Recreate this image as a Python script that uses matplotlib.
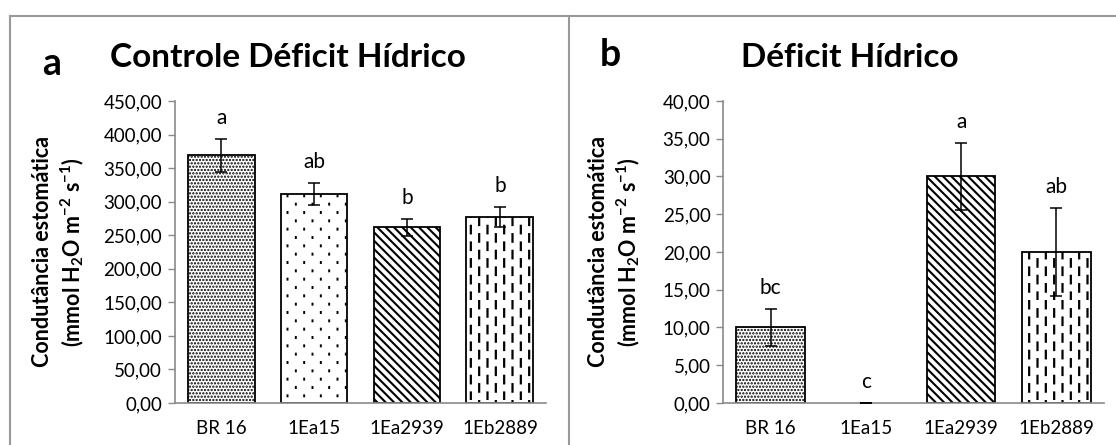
import warnings
import numpy as np
import matplotlib
matplotlib.use('Agg')
import matplotlib.pyplot as plt
from matplotlib.ticker import FuncFormatter
from matplotlib.lines import Line2D
from matplotlib.path import Path
import matplotlib.hatch as mhatch

# data
genotypes = ['BR 16', '1Ea15', '1Ea2939', '1Eb2889']

control_mean = [369.0, 311.5, 261.5, 276.5]
control_err = [24.5, 16.0, 12.5, 15.0]
control_letters = ['a', 'ab', 'b', 'b']

deficit_mean = [10.0, 0.0, 30.0, 20.0]
deficit_err = [2.4, 0.0, 4.4, 5.8]
deficit_letters = ['bc', 'c', 'a', 'ab']

hatches = ['.....', ':', '\\\\\\\\', '!!']
hatch_lw = [1.1, 1.4, 1.5, 1.6]


# dashed vertical lines (Excel style pattern), not available in matplotlib
class DashedVertical(mhatch.HatchPatternBase):
    def __init__(self, hatch, density):
        self.num_cols = hatch.count('!') * density
        self.num_rows = self.num_cols // 2
        self.num_vertices = self.num_cols * self.num_rows * 2

    def set_vertices_and_codes(self, vertices, codes):
        sx = 1.0 / self.num_cols
        sy = 1.0 / self.num_rows
        k = 0
        for i in range(self.num_cols):
            x = i * sx + sx / 2
            off = (i % 2) * sy / 2
            for j in range(self.num_rows):
                y0 = j * sy + off
                vertices[k] = (x, y0)
                vertices[k + 1] = (x, y0 + sy * 0.45)
                codes[k] = Path.MOVETO
                codes[k + 1] = Path.LINETO
                k += 2


# sparse staggered small dots
class SparseDots(mhatch.HatchPatternBase):
    def __init__(self, hatch, density):
        self.num_cols = hatch.count(':') * density
        self.num_rows = self.num_cols * 2
        self.num_vertices = self.num_cols * self.num_rows * 2

    def set_vertices_and_codes(self, vertices, codes):
        sx = 1.0 / self.num_cols
        sy = 1.0 / self.num_rows
        k = 0
        for j in range(self.num_rows):
            off = (j % 2) * sx / 2
            for i in range(self.num_cols):
                x = i * sx + off + sx / 4
                y = j * sy + sy / 2
                vertices[k] = (x, y - 0.005)
                vertices[k + 1] = (x, y + 0.005)
                codes[k] = Path.MOVETO
                codes[k + 1] = Path.LINETO
                k += 2


mhatch._hatch_types.append(DashedVertical)
mhatch._hatch_types.append(SparseDots)
warnings.filterwarnings('ignore')

plt.rcParams['font.family'] = ['Lato', 'DejaVu Sans']
plt.rcParams['mathtext.fontset'] = 'custom'
plt.rcParams['mathtext.rm'] = 'Lato'
plt.rcParams['mathtext.bf'] = 'Lato:bold'
plt.rcParams['hatch.color'] = 'black'

fig = plt.figure(figsize=(11.16, 4.45), dpi=100)

grey = '#8a8a8a'
ylab = 'Condutância estomática\n' + r'(mmol H$_\mathbf{2}$O m$^\mathbf{-2}$ s$^\mathbf{-1}$)'


def panel(rect, means, errs, letters, ymax, ystep, title, tag, title_x, tag_xy, ylab_x):
    ax = fig.add_axes(rect)
    x = np.arange(len(genotypes))
    for xi, m, h, lw in zip(x, means, hatches, hatch_lw):
        with plt.rc_context({'hatch.linewidth': lw}):
            b = ax.bar(xi, m, width=0.72, color='white', edgecolor='black',
                       linewidth=1.3 if m > 0 else 0, hatch=h, zorder=2)[0]
            if hasattr(b, 'set_hatch_linewidth'):
                b.set_hatch_linewidth(lw)
    ax.errorbar(x, means, yerr=errs, fmt='none', ecolor='black', elinewidth=1.1,
                capsize=4.5, capthick=1.1, zorder=3)
    for xi, m, e, t in zip(x, means, errs, letters):
        ax.annotate(t, (xi, m + e), xytext=(0, 11), textcoords='offset points',
                    ha='center', va='baseline', fontsize=15)
    ax.set_xlim(-0.5, len(genotypes) - 0.5)
    ax.set_ylim(0, ymax)
    ax.set_yticks(np.arange(0, ymax + ystep / 2, ystep))
    ax.yaxis.set_major_formatter(FuncFormatter(lambda v, p: f'{v:.2f}'.replace('.', ',')))
    ax.set_xticks(x)
    ax.set_xticklabels(genotypes)
    ax.tick_params(axis='x', length=0, pad=12, labelsize=13.5)
    ax.tick_params(axis='y', length=5, width=1, color=grey, pad=4, labelsize=13.5)
    for s in ['top', 'right']:
        ax.spines[s].set_visible(False)
    for s in ['left', 'bottom']:
        ax.spines[s].set_color(grey)
        ax.spines[s].set_linewidth(1.2)
    fig.text(title_x, 1 - 67 / 445, title, ha='center', va='baseline',
             fontsize=24, fontweight='bold')
    fig.text(tag_xy[0], tag_xy[1], tag, ha='left', va='baseline',
             fontsize=27, fontweight='bold')
    fig.text(ylab_x, rect[1] + rect[3] / 2, ylab, rotation=90, ha='center', va='center',
             multialignment='center', fontsize=15.5, fontweight='bold', linespacing=1.25)
    return ax


panel([174.6 / 1116, 0.0944, 371.8 / 1116, 0.6787], control_mean, control_err,
      control_letters, 450, 50, 'Controle Déficit Hídrico', 'a',
      288 / 1116, (42 / 1116, 1 - 75 / 445), 59 / 1116)
panel([723 / 1116, 0.0944, 381 / 1116, 0.6787], deficit_mean, deficit_err,
      deficit_letters, 40, 5, 'Déficit Hídrico', 'b',
      850 / 1116, (600 / 1116, 1 - 66 / 445), 615 / 1116)

# panel frames
frame = dict(color='#999999', linewidth=1.5, transform=fig.transFigure)
fig.add_artist(Line2D([10 / 1116, 1], [1 - 16 / 445] * 2, **frame))
fig.add_artist(Line2D([10 / 1116] * 2, [0, 1 - 16 / 445], **frame))
fig.add_artist(Line2D([569 / 1116] * 2, [0, 1 - 16 / 445], **frame))

fig.savefig('out.png', dpi=100)
